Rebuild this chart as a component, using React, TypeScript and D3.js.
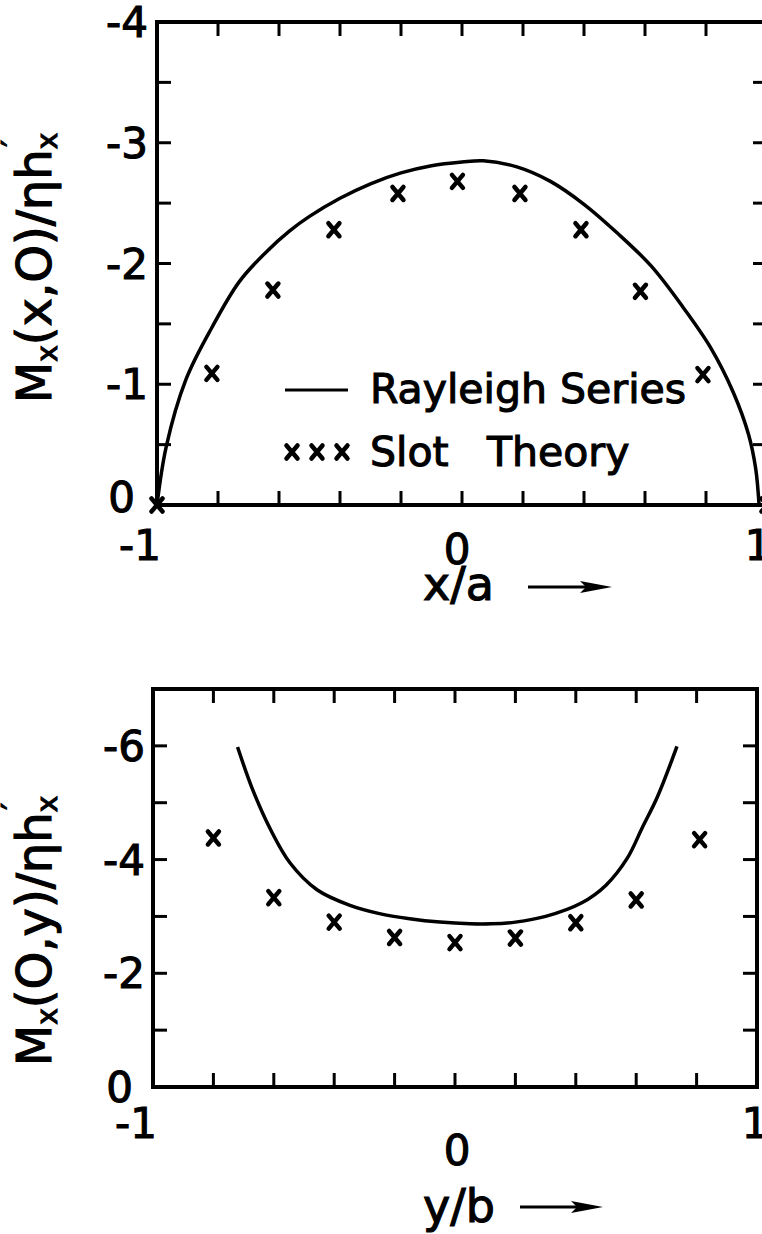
import React from "react";
import * as d3 from "d3";

// Upper plot: moment along the x axis, M_x(x,0)
const rayleighTopX = [-1, -0.97, -0.905, -0.82, -0.73, -0.64, -0.565, -0.5, -0.4, -0.3, -0.2, -0.1, 0, 0.07, 0.18, 0.29, 0.4, 0.51, 0.62, 0.727, 0.816, 0.89, 0.94, 0.963, 0.974];
const rayleighTopM = [0, -0.48, -1.04, -1.47, -1.85, -2.1, -2.27, -2.39, -2.54, -2.66, -2.75, -2.81, -2.84, -2.85, -2.8, -2.68, -2.49, -2.25, -1.98, -1.63, -1.3, -0.93, -0.58, -0.3, 0];
const slotTopX = [-1, -0.82, -0.62, -0.42, -0.21, -0.015, 0.19, 0.39, 0.585, 0.79, 1];
const slotTopM = [0, -1.09, -1.78, -2.28, -2.58, -2.68, -2.58, -2.28, -1.77, -1.08, 0];

// Lower plot: moment along the y axis, M_x(0,y)
const rayleighBotY = [-0.72, -0.67, -0.61, -0.546, -0.457, -0.35, -0.25, -0.15, -0.05, 0.05, 0.12, 0.2, 0.3, 0.42, 0.5, 0.57, 0.62, 0.67, 0.735];
const rayleighBotM = [-5.98, -5.23, -4.52, -3.94, -3.47, -3.2, -3.05, -2.96, -2.9, -2.87, -2.87, -2.9, -3.0, -3.24, -3.55, -4.02, -4.56, -5.1, -5.99];
const slotBotY = [-0.8, -0.6, -0.4, -0.2, 0, 0.2, 0.4, 0.6, 0.81];
const slotBotM = [-4.38, -3.33, -2.9, -2.63, -2.54, -2.62, -2.89, -3.29, -4.35];

// Axis ticks and labels
const xTickValues = [-0.8, -0.6, -0.4, -0.2, 0, 0.2, 0.4, 0.6, 0.8];
const xTickLabels = ["-1", "0", "1"];
const topYMinor = [-0.5, -1, -1.5, -2, -2.5, -3, -3.5];
const topYLabels = ["0", "-1", "-2", "-3", "-4"];
const botYMinor = [-1, -2, -3, -4, -5, -6];
const botYLabels = ["0", "-2", "-4", "-6"];
const legendLabels = ["Rayleigh Series", "Slot", "Theory"];

const FONT = "'DejaVu Sans', Verdana, sans-serif";
const TICK = 14;

function XMark({ x, y }: { x: number; y: number }) {
  const a = 5.5, b = 6.5;
  return (
    <path
      d={`M${x - a},${y - b}L${x + a},${y + b}M${x + a},${y - b}L${x - a},${y + b}`}
      stroke="#000"
      strokeWidth={4.5}
      strokeLinecap="round"
      fill="none"
    />
  );
}

function Arrow({ x1, x2, y }: { x1: number; x2: number; y: number }) {
  return (
    <g>
      <line x1={x1} x2={x2 - 20} y1={y} y2={y} stroke="#000" strokeWidth={3} />
      <path d={`M${x2 - 32},${y - 6}L${x2},${y}L${x2 - 32},${y + 6}L${x2 - 26},${y}Z`} fill="#000" />
    </g>
  );
}

type Panel = {
  x: d3.ScaleLinear<number, number>;
  y: d3.ScaleLinear<number, number>;
  yTicks: number[];
};

function Frame({ x, y, yTicks }: Panel) {
  const [x0, x1] = x.range();
  const [y0, y1] = y.range();
  return (
    <g stroke="#000" fill="none">
      <rect x={x0} y={y1} width={x1 - x0} height={y0 - y1} strokeWidth={4} />
      {xTickValues.map((v) => (
        <g key={"xt" + v}>
          <line x1={x(v)} x2={x(v)} y1={y0} y2={y0 - TICK} strokeWidth={3} />
          <line x1={x(v)} x2={x(v)} y1={y1} y2={y1 + TICK} strokeWidth={3} />
        </g>
      ))}
      {yTicks.map((v) => (
        <g key={"yt" + v}>
          <line x1={x0} x2={x0 + TICK} y1={y(v)} y2={y(v)} strokeWidth={3} />
          <line x1={x1} x2={x1 - TICK} y1={y(v)} y2={y(v)} strokeWidth={3} />
        </g>
      ))}
    </g>
  );
}

export default function App() {
  const xTop = d3.scaleLinear().domain([-1, 1]).range([157, 767]);
  const yTop = d3.scaleLinear().domain([0, -4]).range([505, 22]);
  const xBot = d3.scaleLinear().domain([-1, 1]).range([153, 757]);
  const yBot = d3.scaleLinear().domain([0, -7]).range([1087, 689]);

  const topLine = d3
    .line<number>()
    .x((_, i) => xTop(rayleighTopX[i]))
    .y((m) => yTop(m))
    .curve(d3.curveCatmullRom.alpha(0.5))(rayleighTopM);
  const botLine = d3
    .line<number>()
    .x((_, i) => xBot(rayleighBotY[i]))
    .y((m) => yBot(m))
    .curve(d3.curveCatmullRom.alpha(0.5))(rayleighBotM);

  const ink = { fill: "#000", stroke: "#000", strokeWidth: 1.1 } as const;
  const tickText = { fontFamily: FONT, fontSize: 42, ...ink } as const;
  const titleText = { fontFamily: FONT, fontSize: 46, ...ink } as const;
  const yTitle = { fontFamily: FONT, fontSize: 48, ...ink } as const;
  const legendText = { fontFamily: FONT, fontSize: 41, ...ink } as const;

  return (
    <svg
      width={762}
      height={1234}
      viewBox="0 0 762 1234"
      style={{ position: "absolute", left: 0, top: 0, background: "#fff" }}
    >
      <rect width={762} height={1234} fill="#fff" />

      {/* upper plot */}
      <Frame x={xTop} y={yTop} yTicks={topYMinor} />
      <path d={topLine ?? ""} fill="none" stroke="#000" strokeWidth={3.5} />
      {slotTopX.map((v, i) => (
        <XMark key={"st" + i} x={xTop(v)} y={yTop(slotTopM[i])} />
      ))}
      {topYLabels.map((t, i) => (
        <text
          key={"tyl" + t}
          x={i === 0 ? 135 : 148}
          y={yTop(-i) + (i === 0 ? -8 : 0)}
          dy="0.36em"
          textAnchor="end"
          {...tickText}
        >
          {t}
        </text>
      ))}
      <text x={161} y={560} textAnchor="end" {...tickText}>{xTickLabels[0]}</text>
      <text x={457} y={564} textAnchor="middle" {...tickText}>{xTickLabels[1]}</text>
      <text x={758} y={560} textAnchor="middle" {...tickText}>{xTickLabels[2]}</text>
      <text x={423} y={600} {...titleText}>x/a</text>
      <Arrow x1={528} x2={612} y={587} />
      <text transform="translate(51,268) rotate(-90)" textAnchor="middle" {...yTitle}>
        M<tspan fontSize={28} dy={6}>x</tspan>
        <tspan dy={-6}>(x,O)/ηh</tspan>
        <tspan fontSize={28} dy={6}>x</tspan>
        <tspan fontSize={30} dx={-14} dy={-34}>′</tspan>
      </text>

      {/* legend */}
      <line x1={285} x2={348} y1={390} y2={390} stroke="#000" strokeWidth={3} />
      <text x={370} y={403} {...legendText}>{legendLabels[0]}</text>
      {[292, 317, 342].map((cx) => (
        <XMark key={"lg" + cx} x={cx} y={452} />
      ))}
      <text x={370} y={466} {...legendText}>{legendLabels[1]}</text>
      <text x={487} y={466} {...legendText}>{legendLabels[2]}</text>

      {/* lower plot */}
      <Frame x={xBot} y={yBot} yTicks={botYMinor} />
      <path d={botLine ?? ""} fill="none" stroke="#000" strokeWidth={3.5} />
      {slotBotY.map((v, i) => (
        <XMark key={"sb" + i} x={xBot(v)} y={yBot(slotBotM[i])} />
      ))}
      {botYLabels.map((t, i) => (
        <text
          key={"byl" + t}
          x={i === 0 ? 133 : 145}
          y={yBot(-2 * i)}
          dy="0.36em"
          textAnchor="end"
          {...tickText}
        >
          {t}
        </text>
      ))}
      <text x={157} y={1138} textAnchor="end" {...tickText}>{xTickLabels[0]}</text>
      <text x={457} y={1165} textAnchor="middle" {...tickText}>{xTickLabels[1]}</text>
      <text x={755} y={1138} textAnchor="middle" {...tickText}>{xTickLabels[2]}</text>
      <text x={423} y={1222} {...titleText}>y/b</text>
      <Arrow x1={520} x2={603} y={1207} />
      <text transform="translate(51,931) rotate(-90)" textAnchor="middle" {...yTitle}>
        M<tspan fontSize={28} dy={6}>x</tspan>
        <tspan dy={-6}>(O,y)/ηh</tspan>
        <tspan fontSize={28} dy={6}>x</tspan>
        <tspan fontSize={30} dx={-14} dy={-34}>′</tspan>
      </text>
    </svg>
  );
}
